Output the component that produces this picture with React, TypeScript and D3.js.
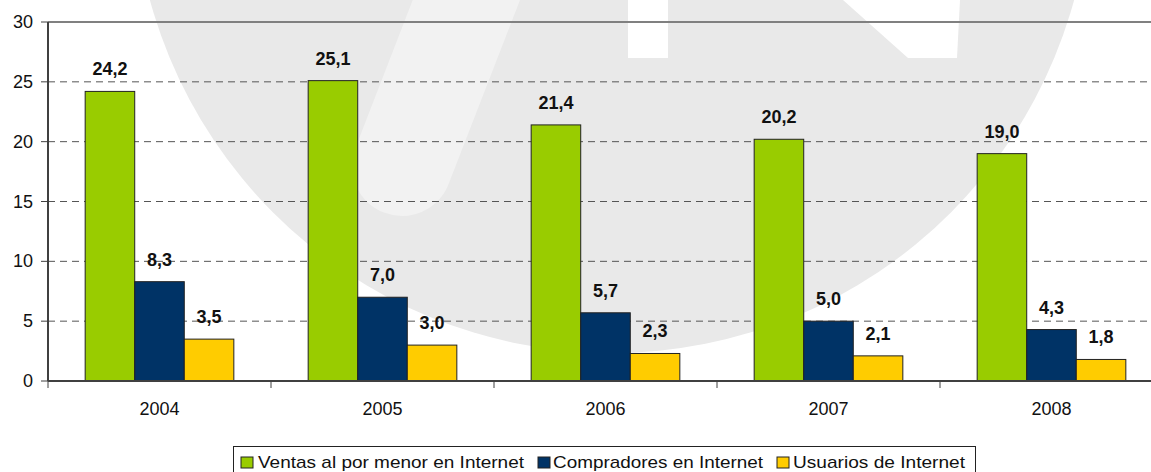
import * as d3 from "d3";

const years = ["2004", "2005", "2006", "2007", "2008"];
const seriesNames = [
  "Ventas al por menor en Internet",
  "Compradores en Internet",
  "Usuarios de Internet",
];
const ventas = [24.2, 25.1, 21.4, 20.2, 19.0];
const compradores = [8.3, 7.0, 5.7, 5.0, 4.3];
const usuarios = [3.5, 3.0, 2.3, 2.1, 1.8];
const yTicks = [0, 5, 10, 15, 20, 25, 30];
const colors = ["#99CC00", "#003366", "#FFCC00"];

const W = 1151;
const H = 472;
const left = 48;
const catW = 223;
const top = 22;
const bottom = 381;
const font = "Arial, 'Liberation Sans', sans-serif";

const fmt = (v: number) => v.toFixed(1).replace(".", ",");

export default function App() {
  const series = [ventas, compradores, usuarios];
  const x = d3.scaleBand<string>().domain(years).range([left, left + catW * years.length]).padding(0);
  const xs = d3.scaleBand<number>().domain([0, 1, 2]).range([0, catW]).paddingInner(0).paddingOuter(0.75);
  const y = d3.scaleLinear().domain([0, 30]).range([bottom, top]);

  // legend layout (swatch x, text x, text width)
  const legendItems = [
    { sx: 241, tx: 258, tw: 266 },
    { sx: 538, tx: 553, tw: 210 },
    { sx: 777, tx: 793, tw: 172 },
  ];

  return (
    <svg
      width={W}
      height={H}
      style={{ position: "absolute", left: 0, top: 0, display: "block", background: "#fff" }}
      fontFamily={font}
    >
      <defs>
        <clipPath id="wm">
          <circle cx={612} cy={-126} r={479} />
        </clipPath>
      </defs>
      {/* watermark */}
      <g clipPath="url(#wm)">
        <rect x={0} y={0} width={W} height={H} fill="#e9e9e9" />
        <line x1={478} y1={-30} x2={402} y2={166} stroke="#f2f2f2" strokeWidth={100} strokeLinecap="round" />
        <rect x={628} y={0} width={40} height={58} fill="#fff" />
        <polygon points="843,0 960,0 957,58 908,58" fill="#fff" />
      </g>

      {/* grid */}
      {yTicks.filter(t => t > 0 && t < 30).map(t => (
        <line key={t} x1={left} x2={W} y1={y(t)} y2={y(t)} stroke="#555" strokeWidth={1} strokeDasharray="7,5" />
      ))}
      <line x1={left} x2={W} y1={y(30)} y2={y(30)} stroke="#808080" strokeWidth={2} />

      {/* bars */}
      {series.map((vals, si) =>
        years.map((yr, i) => (
          <rect
            key={`${si}-${i}`}
            x={(x(yr) ?? 0) + (xs(si) ?? 0)}
            y={y(vals[i])}
            width={xs.bandwidth()}
            height={bottom - y(vals[i])}
            fill={colors[si]}
            stroke="#222"
            strokeWidth={1}
          />
        ))
      )}

      {/* value labels */}
      {series.map((vals, si) =>
        years.map((yr, i) => (
          <text
            key={`l${si}-${i}`}
            x={(x(yr) ?? 0) + (xs(si) ?? 0) + xs.bandwidth() / 2}
            y={y(vals[i]) - 16}
            textAnchor="middle"
            fontSize={18}
            fontWeight="bold"
            fill="#111"
          >
            {fmt(vals[i])}
          </text>
        ))
      )}

      {/* axes */}
      <line x1={left} x2={left} y1={top} y2={bottom} stroke="#404040" strokeWidth={2} />
      <line x1={left} x2={W} y1={bottom} y2={bottom} stroke="#404040" strokeWidth={2} />
      {yTicks.map(t => (
        <g key={`yt${t}`}>
          <line x1={41} x2={left} y1={y(t)} y2={y(t)} stroke="#404040" strokeWidth={1} />
          <text x={33} y={y(t) + 6} textAnchor="end" fontSize={18} fill="#111">
            {t}
          </text>
        </g>
      ))}
      {years.map((yr, i) => (
        <g key={`xt${yr}`}>
          <line x1={left + catW * i} x2={left + catW * i} y1={bottom} y2={bottom + 7} stroke="#404040" strokeWidth={1} />
          <text x={(x(yr) ?? 0) + x.bandwidth() / 2} y={415} textAnchor="middle" fontSize={18} fill="#111">
            {yr}
          </text>
        </g>
      ))}

      {/* legend */}
      <rect x={233.5} y={446.5} width={742} height={40} fill="#fff" stroke="#222" strokeWidth={1} />
      {seriesNames.map((name, i) => (
        <g key={name}>
          <rect x={legendItems[i].sx} y={457} width={12} height={11} fill={colors[i]} stroke="#222" strokeWidth={1} />
          <text
            x={legendItems[i].tx}
            y={468}
            fontSize={17}
            fill="#111"
            textLength={legendItems[i].tw}
            lengthAdjust="spacingAndGlyphs"
          >
            {name}
          </text>
        </g>
      ))}
    </svg>
  );
}
